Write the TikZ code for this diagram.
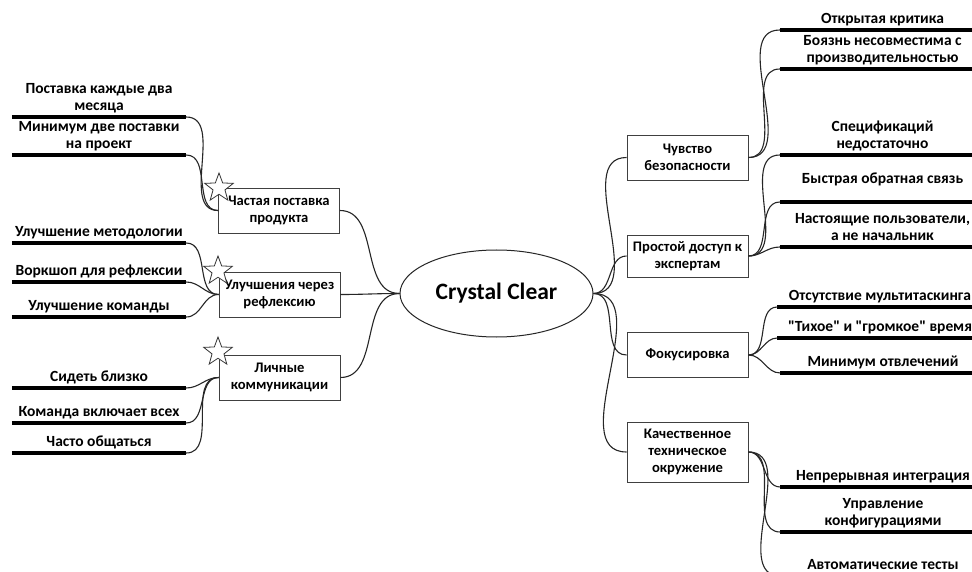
\documentclass[tikz,border=0pt]{standalone}
\usepackage{fontspec}
\setmainfont{Carlito}[Ligatures=TeXOff]
\usetikzlibrary{shapes.geometric}

\begin{document}
\begin{tikzpicture}[x=1pt,y=-1pt,
  every node/.style={font=\bfseries\fontsize{15.5}{17}\selectfont, text=black},
  topic/.style={draw=black!75, line width=0.9pt, align=center, minimum width=121pt,
    minimum height=45pt, inner sep=0pt, fill=white,
    font=\bfseries\fontsize{14.6}{17}\selectfont},
  leaf/.style={align=center, inner xsep=0pt, inner ysep=1pt, anchor=south},
  leftleaf/.style={leaf, minimum width=174pt},
  rightleaf/.style={leaf, minimum width=205pt},
  bar/.style={line width=4pt, draw=black},
  link/.style={draw=black!85, line width=1.1pt},
  badge/.style={star, star points=5, star point ratio=2.4, minimum size=30pt,
    inner sep=0pt, draw=black!80, line width=0.8pt, fill=white},
]
\useasboundingbox[fill=white] (0,0) rectangle (972,572);

% central topic
\node[draw=black!85, line width=1pt, ellipse, minimum width=193pt, minimum height=87pt,
  font=\bfseries\fontsize{23.5}{26}\selectfont] (core) at (496.5,293.5) {Crystal Clear};

% left-hand practices
\node[topic] (b1) at (279,210.5) {Частая поставка\\продукта};
\node[topic] (b2) at (279.5,294.5) {Улучшения через\\рефлексию};
\node[topic] (b3) at (279.5,377.5) {Личные\\коммуникации};

% right-hand practices
\node[topic] (r1) at (687.5,157.5) {Чувство\\безопасности};
\node[topic, minimum height=42pt] (r2) at (687.5,256) {Простой доступ к\\экспертам};
\node[topic] (r3) at (687.5,355) {Фокусировка};
\node[topic, minimum height=60pt] (r4) at (687.5,452) {Качественное\\техническое\\окружение};

% left leaves
\node[leftleaf] (l1) at (99,117) {Поставка каждые два\\месяца\strut};
\node[leftleaf] (l2) at (99,155) {Минимум две поставки\\на проект\strut};
\node[leftleaf] (l3) at (99,243) {Улучшение методологии\strut};
\node[leftleaf] (l4) at (99,282) {Воркшоп для рефлексии\strut};
\node[leftleaf] (l5) at (99,317) {Улучшение команды\strut};
\node[leftleaf] (l6) at (99,388) {Сидеть близко\strut};
\node[leftleaf] (l7) at (99,423) {Команда включает всех\strut};
\node[leftleaf] (l8) at (99,453) {Часто общаться\strut};

% right leaves
\node[rightleaf] (q1) at (882.5,30) {Открытая критика\strut};
\node[rightleaf] (q2) at (882.5,69) {Боязнь несовместима с\\производительностью\strut};
\node[rightleaf] (q3) at (882.5,155) {Спецификаций\\недостаточно\strut};
\node[rightleaf] (q4) at (882.5,202) {Быстрая обратная связь\\[-5pt]\strut};
\node[rightleaf] (q5) at (882.5,247) {Настоящие пользователи,\\а не начальник\strut};
\node[rightleaf] (q6) at (880,307) {Отсутствие мультитаскинга\strut};
\node[rightleaf] (q7) at (880,338) {"Тихое" и "громкое" время\strut};
\node[rightleaf] (q8) at (883,373) {Минимум отвлечений\strut};
\node[rightleaf] (q9) at (883,487) {Непрерывная интеграция\strut};
\node[rightleaf] (q10) at (883,532) {Управление\\конфигурациями\strut};
\node[rightleaf] (q11) at (883,576) {Автоматические тесты\strut};

% underline bars of the leaves
\foreach \n in {l1,l2,l3,l4,l5,l6,l7,l8,q1,q2,q3,q4,q5,q6,q7,q8,q9,q10,q11}
  \draw[bar] (\n.south west) -- (\n.south east);

% links: leaves to left practices
\foreach \n in {l1,l2} \draw[link] (\n.south east) to[out=0,in=180] (b1.west);
\foreach \n in {l3,l4,l5} \draw[link] (\n.south east) to[out=0,in=180] (b2.west);
\foreach \n in {l6,l7,l8} \draw[link] (\n.south east) to[out=0,in=180] (b3.west);

% links: left practices to the centre
\foreach \n in {b1,b2,b3} \draw[link] (\n.east) to[out=0,in=180] (core.west);

% links: centre to right practices
\foreach \n in {r1,r2,r3,r4} \draw[link] (core.east) to[out=0,in=180] (\n.west);

% links: right practices to leaves
\foreach \n in {q1,q2} \draw[link] (r1.east) to[out=0,in=180] (\n.south west);
\foreach \n in {q3,q4,q5} \draw[link] (r2.east) to[out=0,in=180] (\n.south west);
\foreach \n in {q6,q7,q8} \draw[link] (r3.east) to[out=0,in=180] (\n.south west);
\foreach \n in {q9,q10,q11} \draw[link] (r4.east) to[out=0,in=180] (\n.south west);

% stars marking the key properties
\node[badge] (s1) at (219,188) {};
\node[badge] (s2) at (218,271) {};
\node[badge] (s3) at (218,352) {};
\end{tikzpicture}
\end{document}
